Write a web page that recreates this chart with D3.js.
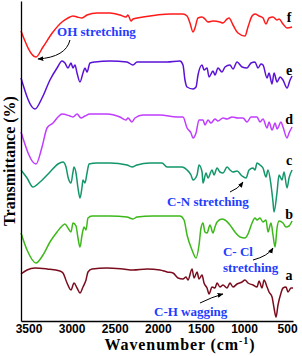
<!DOCTYPE html>
<html lang="en">
<head>
<meta charset="utf-8">
<title>FTIR</title>
<script src="https://cdn.jsdelivr.net/npm/d3@7"></script>
<style>
  body { margin: 0; background: #fff; }
  .tick text { font-family: "Liberation Sans", Arial, sans-serif; font-weight: bold; font-size: 12px; }
  .lbl { font-family: "Liberation Serif", "Times New Roman", serif; font-weight: bold; }
  .note { font-family: "Liberation Serif", "Times New Roman", serif; font-weight: bold; font-size: 13px; fill: #1f3dff; }
</style>
</head>
<body>
<script>
// x tick labels
var xTicks = [3500, 3000, 2500, 2000, 1500, 1000, 500];

// spectra, wavenumber (cm-1) and transmittance (stacked, arbitrary %)
var waveF = [3587,3413,3332,3216,3111,3042,2984,2937,2879,2821,2705,2555,2439,2369,2346,2311,2288,2172,2009,1859,1708,1661,1627,1592,1569,1534,1487,1453,1418,1360,1279,1244,1197,1174,1128,1070,989,954,907,873,826,780,745,710,664,617,594,548,501,443];
var transF = [290,264,274,289,299,303,305,304,303,306,308,308,306,304,306,300,302,304,306,307,307,305,298,289,293,303,304,302,299,300,299,298,302,303,296,288,285,294,305,307,305,303,297,303,304,301,302,297,293,294];

var waveE = [3587,3425,3343,3251,3169,3111,3077,3042,3007,2984,2961,2937,2903,2868,2845,2821,2787,2729,2555,2358,2288,2241,2091,1893,1743,1708,1685,1661,1592,1557,1534,1487,1464,1429,1406,1360,1337,1302,1256,1221,1163,1128,1081,1023,965,919,873,838,803,780,733,710,675,652,617,582,548,501,466,443];
var transE = [243,212,223,241,253,260,258,253,258,253,256,248,239,248,253,249,258,259,260,259,256,259,259,259,260,256,241,234,232,234,246,256,251,253,244,250,246,253,249,254,256,252,259,254,253,258,259,253,257,256,243,248,237,248,239,244,241,233,241,245];

var waveD = [3587,3413,3343,3285,3216,3158,3111,3019,2984,2937,2891,2845,2787,2589,2439,2369,2346,2300,2265,2172,1975,1777,1708,1661,1615,1592,1557,1522,1476,1453,1418,1383,1337,1302,1244,1197,1139,1070,1012,965,919,849,815,780,733,710,675,640,617,571,548,501,478,443];
var transD = [189,157,174,193,198,204,207,205,204,207,203,205,207,207,204,201,203,199,203,206,206,204,204,193,188,183,188,201,201,196,201,198,202,200,203,202,204,203,203,199,204,204,199,202,193,199,191,198,192,199,194,183,188,194];

var waveC = [3587,3517,3448,3367,3251,3158,3100,3065,3042,3007,2984,2972,2949,2926,2903,2879,2868,2845,2821,2798,2705,2555,2358,2300,2241,2091,1951,1893,1824,1719,1661,1615,1592,1545,1522,1487,1476,1441,1418,1371,1348,1313,1279,1244,1197,1163,1128,1081,1023,977,942,896,873,849,815,780,745,722,687,664,652,617,594,559,536,501,478,443];
var transC = [151,143,134,139,149,157,159,154,144,138,149,154,148,133,123,134,141,138,148,157,158,158,156,154,156,158,158,154,154,154,151,146,141,146,156,149,138,148,143,151,146,153,149,148,154,151,149,150,145,143,151,153,151,158,156,153,144,151,136,119,109,129,146,141,149,133,143,151];

var waveB = [3587,3517,3413,3332,3251,3169,3111,3077,3042,3007,2984,2949,2926,2903,2879,2856,2833,2810,2763,2555,2358,2288,2241,2056,1743,1696,1661,1603,1557,1522,1499,1476,1453,1429,1395,1360,1337,1313,1256,1221,1163,1105,1047,989,954,907,873,849,815,780,745,722,687,664,640,617,594,548,513,478,443];
var transB = [88,71,58,66,79,89,95,97,93,89,98,95,83,74,86,94,91,103,105,105,104,102,104,105,105,101,86,71,63,76,93,98,89,88,96,88,94,99,102,101,96,89,84,83,87,98,103,101,103,99,101,89,98,86,74,93,100,98,94,95,100];

var waveA = [3587,3517,3425,3285,3135,3100,3053,3007,2972,2937,2903,2868,2833,2810,2763,2589,2404,2288,2125,1975,1893,1824,1766,1708,1673,1650,1603,1580,1545,1522,1487,1464,1429,1406,1371,1337,1313,1279,1244,1197,1163,1128,1081,1023,989,954,896,849,826,791,768,733,710,675,652,629,606,571,548,513,490,455,432];
var transA = [47,51,53,52,50,48,38,31,38,33,28,34,41,49,52,53,52,51,52,51,49,48,43,42,44,41,52,43,49,42,46,38,33,27,34,33,38,34,36,33,38,34,37,39,41,38,36,34,40,33,41,34,29,24,13,4,16,28,33,34,29,33,33];

var seriesNames = ['f', 'e', 'd', 'c', 'b', 'a'];
var seriesColors = ['#ff1a1a', '#5a12d6', '#c03cff', '#12966a', '#3cb81a', '#7a0c1e'];
var labelTrans = [299, 246, 197, 156, 102, 41];

var w = 302, h = 356;
var svg = d3.select('body').append('svg').attr('width', w).attr('height', h);

var xScale = d3.scaleLinear().domain([3587, 432]).range([21, 293]);
var yScale = d3.scaleLinear().domain([0, 320]).range([321, 1]);

var series = [
  {wave: waveF, trans: transF},
  {wave: waveE, trans: transE},
  {wave: waveD, trans: transD},
  {wave: waveC, trans: transC},
  {wave: waveB, trans: transB},
  {wave: waveA, trans: transA}
];

var line = d3.line()
  .x(function(d) { return xScale(d[0]); })
  .y(function(d) { return yScale(d[1]); })
  .curve(d3.curveMonotoneX);

series.forEach(function(s, i) {
  var pts = s.wave.map(function(v, j) { return [v, s.trans[j]]; });
  svg.append('path')
    .datum(pts)
    .attr('d', line)
    .attr('fill', 'none')
    .attr('stroke', seriesColors[i])
    .attr('stroke-width', 1.5)
    .attr('stroke-linejoin', 'round');
  svg.append('text')
    .attr('class', 'lbl')
    .attr('x', xScale(478))
    .attr('y', yScale(labelTrans[i]))
    .attr('text-anchor', 'middle')
    .attr('font-size', 14)
    .text(seriesNames[i]);
});

// axes
var xAxis = d3.axisBottom(xScale).tickValues(xTicks).tickFormat(d3.format('d'))
  .tickSize(0).tickSizeOuter(0).tickPadding(3.5);
var gx = svg.append('g').attr('transform', 'translate(0,321)').call(xAxis);
gx.select('.domain').attr('stroke', '#000').attr('stroke-width', 1.3);

var yAxis = d3.axisLeft(yScale).ticks(0).tickSize(0).tickSizeOuter(0);
var gy = svg.append('g').attr('transform', 'translate(21,0)').call(yAxis);
gy.select('.domain').attr('stroke', '#000').attr('stroke-width', 1.3);

svg.append('text')
  .attr('class', 'lbl')
  .attr('font-size', 16)
  .attr('text-anchor', 'middle')
  .attr('transform', 'translate(15,161) rotate(-90)')
  .text('Transmittance (%)');

var xl = svg.append('text')
  .attr('class', 'lbl')
  .attr('font-size', 16)
  .attr('letter-spacing', 0.9)
  .attr('text-anchor', 'middle')
  .attr('x', 180)
  .attr('y', 350);
xl.append('tspan').text('Wavenumber (cm');
xl.append('tspan').attr('font-size', 10).attr('dy', -6).text('-1');
xl.append('tspan').attr('dy', 6).text(')');

// annotations
var notes = [
  {text: 'OH stretching', w: 3169, t: 285},
  {text: 'C-N stretching', w: 1893, t: 115},
  {text: 'C- Cl', w: 1244, t: 65},
  {text: 'stretching', w: 1244, t: 49},
  {text: 'C-H wagging', w: 2044, t: 5}
];
var arrows = [
  [[3019, 281], [3065, 264], [3390, 262]],
  [[1163, 129], [1070, 132], [1012, 139]],
  [[896, 61], [722, 65], [664, 73]],
  [[1511, 18], [1371, 24], [1244, 27]]
];

svg.append('defs').append('marker')
  .attr('id', 'head')
  .attr('viewBox', '0 0 10 10')
  .attr('refX', 9).attr('refY', 5)
  .attr('markerWidth', 6).attr('markerHeight', 6)
  .attr('orient', 'auto')
  .append('path').attr('d', 'M0,1L10,5L0,9Z').attr('fill', '#000');

notes.forEach(function(n) {
  svg.append('text').attr('class', 'note')
    .attr('x', xScale(n.w)).attr('y', yScale(n.t)).text(n.text);
});

arrows.forEach(function(a) {
  var p = a.map(function(d) { return [xScale(d[0]), yScale(d[1])]; });
  svg.append('path')
    .attr('d', 'M' + p[0] + 'Q' + p[1] + ' ' + p[2])
    .attr('fill', 'none')
    .attr('stroke', '#000')
    .attr('stroke-width', 1)
    .attr('marker-end', 'url(#head)');
});
</script>
</body>
</html>
